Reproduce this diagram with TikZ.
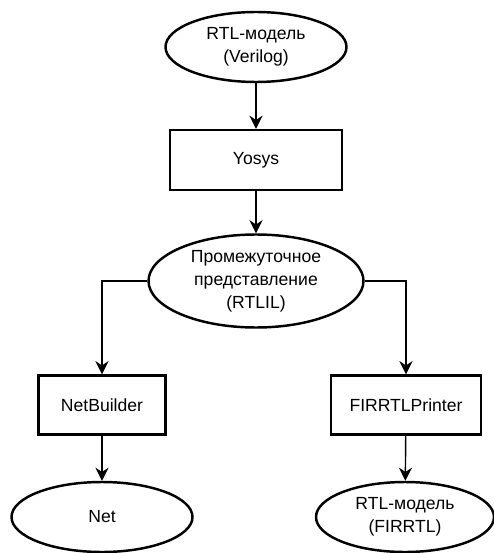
\documentclass[tikz,border=0pt]{standalone}
\usepackage{fontspec}
\setmainfont{Liberation Sans}
\usetikzlibrary{shapes.geometric,arrows.meta}

\tikzset{
  oval/.style={draw, ellipse, line width=1.4pt, inner sep=0pt, align=center,
    minimum width=3.62cm, minimum height=1.4cm},
  block/.style={draw, rectangle, line width=1.4pt, inner sep=0pt, align=center,
    minimum height=1.18cm},
  flow/.style={line width=0.8pt, -{Stealth[length=7.5pt, width=7.5pt, inset=2.5pt]}}
}

\begin{document}
\begin{tikzpicture}[font=\fontsize{10}{13}\selectfont]
            \useasboundingbox (0, 0) rectangle (9.88, -11.06);
            % top: source model and the frontend
            \node[oval] (verilog) at (5.12, -0.94) {RTL-модель\\(Verilog)};
            \node[block, minimum width=3.44cm, minimum height=1.2cm] (yosys) at (5.12, -3.2) {Yosys};
            \node[oval, minimum width=4.3cm, minimum height=1.86cm] (rtlil) at (5.12, -5.62) {Промежуточное\\представление\\(RTLIL)};
            % two branches below
            \node[block, minimum width=2.54cm] (netbuilder) at (2.04, -8.1) {NetBuilder};
            \node[block, minimum width=3.0cm] (printer) at (8.12, -8.1) {FIRRTLPrinter};
            \node[oval] (net) at (2.04, -10.34) {Net};
            \node[oval, minimum width=3.56cm] (firrtl) at (8.1, -10.34) {RTL-модель\\(FIRRTL)};
            \draw[flow] (verilog) -- (yosys);
            \draw[flow] (yosys) -- (rtlil);
            \draw[flow] (rtlil.west) -| (netbuilder);
            \draw[flow] (rtlil.east) -| (printer);
            \draw[flow] (netbuilder) -- (net);
            \draw[flow] (printer) -- (firrtl);
        \end{tikzpicture}
\end{document}
